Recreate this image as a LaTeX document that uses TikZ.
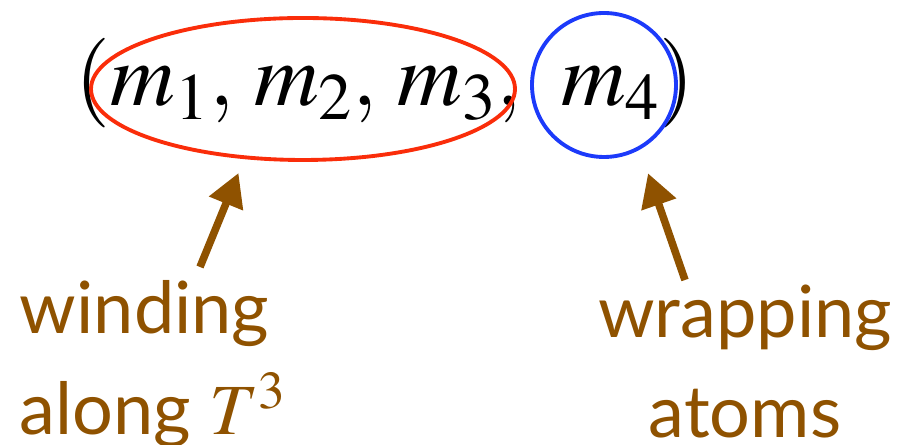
\documentclass[tikz,border=0pt]{standalone}
\usepackage{mathptmx}
\usepackage{fontspec}
\newfontfamily\labelfont{Lato}
\usetikzlibrary{arrows.meta,shapes.geometric,positioning}
\definecolor{ringred}{RGB}{250,45,10}
\definecolor{ringblue}{RGB}{28,58,250}
\definecolor{notebrown}{RGB}{143,82,0}

\begin{document}
\begin{tikzpicture}[>={Triangle[length=0.66cm,width=0.7cm]}, line width=2.2pt,
    ring/.style={draw, inner sep=0pt},
    note/.style={text=notebrown, font=\labelfont\fontsize{41}{57}\selectfont, inner sep=0pt},
    pointer/.style={->, draw=notebrown, line width=4.3pt}]
    \useasboundingbox (0,0) rectangle (18.04,8.9);
    \node[anchor=base west, inner sep=0pt, font=\fontsize{51}{60}\selectfont] (tuple) at (1.48,6.78) {$(m_1,\,m_2,\,m_3,\;\,m_4)$};
    \node[ring, ellipse, draw=ringred, minimum width=8.48cm, minimum height=2.84cm] (torus_ring) at (6.06,7.12) {};
    \node[ring, circle, draw=ringblue, minimum size=2.88cm] (atom_ring) at (12.08,7.2) {};
    \node[note, anchor=north west, align=left] (winding) at (0.36,3.32) {winding\\along $T^3$};
    \node[note, anchor=north, align=center] (wrapping) at (14.9,3.24) {wrapping\\atoms};
    \coordinate (winding_tail) at (4.0,3.56);
    \coordinate (wrapping_tail) at (13.7,3.3);
    \draw[pointer, shorten >=0.3cm] (winding_tail) -- (torus_ring.230);
    \draw[pointer, shorten >=0.5cm] (wrapping_tail) -- (atom_ring.299);
\end{tikzpicture}
\end{document}
